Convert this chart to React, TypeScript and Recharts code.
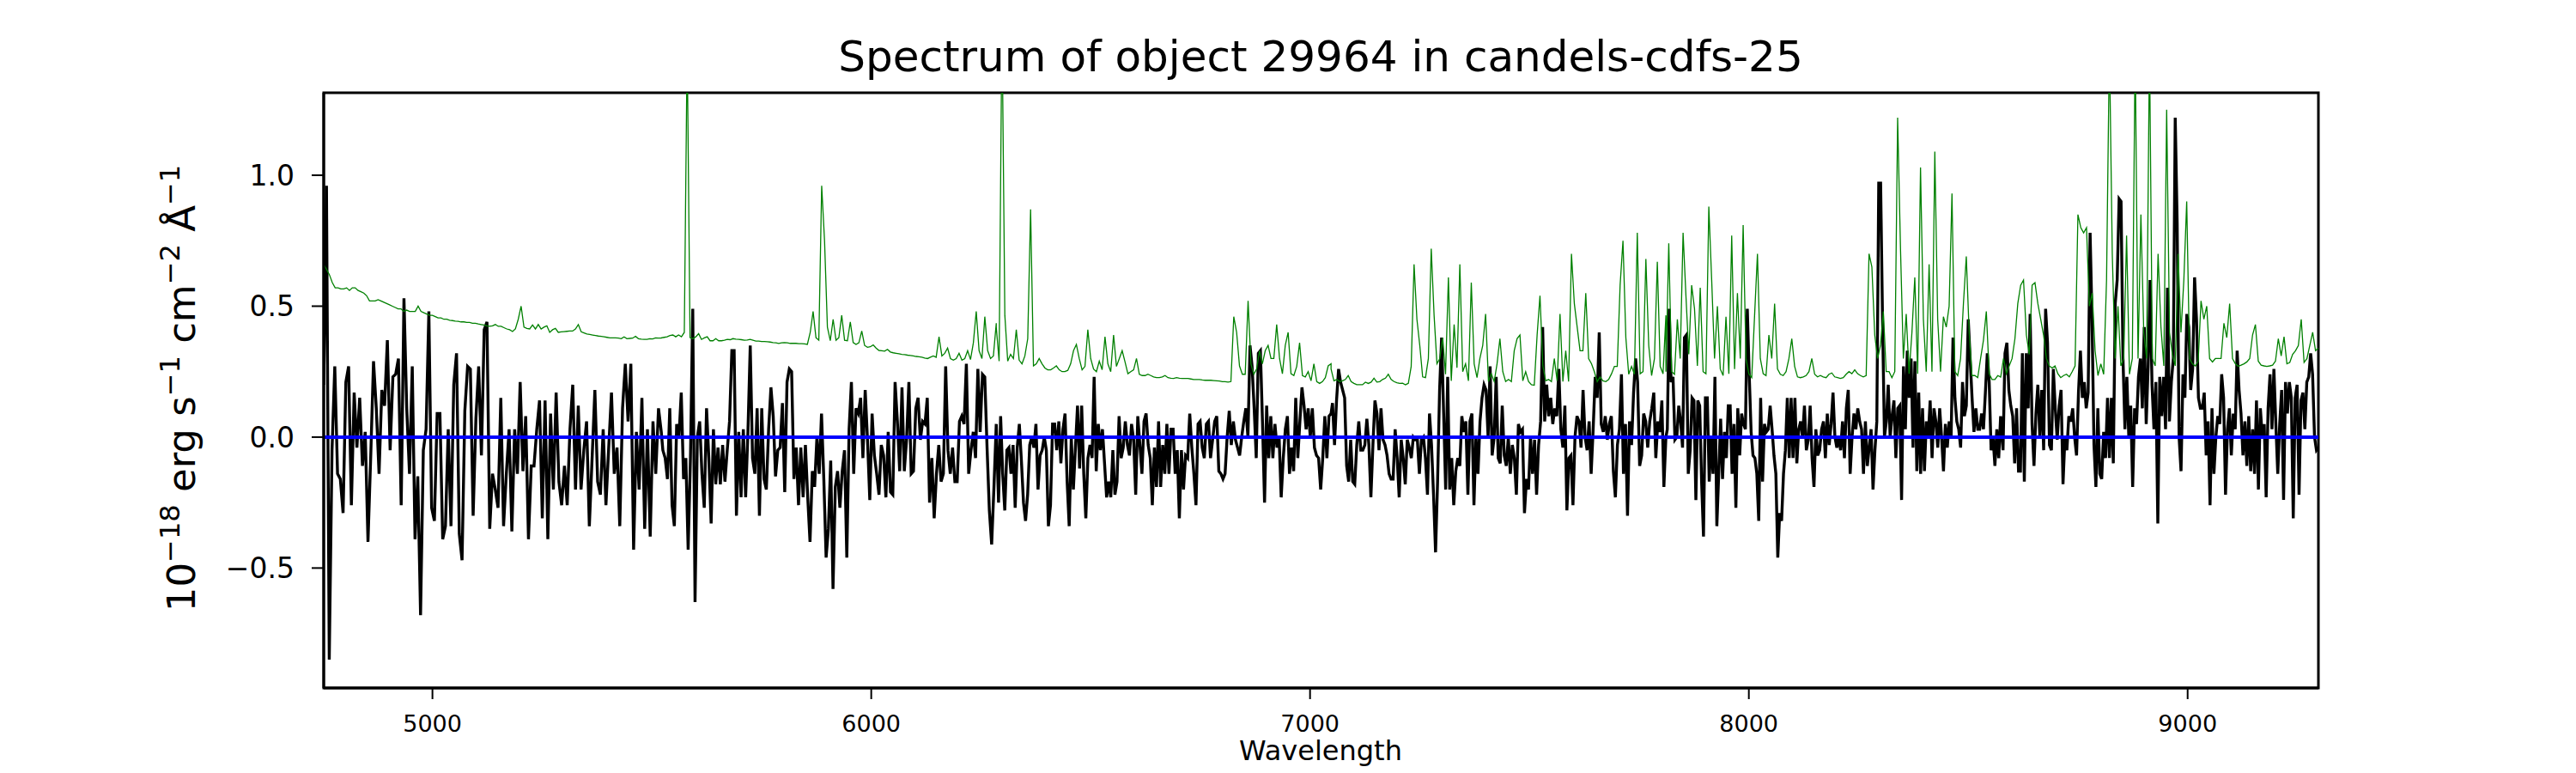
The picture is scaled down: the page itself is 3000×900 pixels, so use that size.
import { LineChart, Line, XAxis, YAxis, ReferenceLine, ReferenceArea } from 'recharts';

// axis limits (Angstrom / 1e-18 erg s-1 cm-2 A-1)
const WAVE_MIN = 4752.2;
const WAVE_MAX = 9298;
const FLUX_MIN = -0.958;
const FLUX_MAX = 1.315;

const X_TICKS = [5000, 6000, 7000, 8000, 9000];
const Y_TICKS = [-0.5, 0, 0.5, 1];

// object spectrum in six stretches (start, end wavelength)
const FLUX_RANGES = [
  [4752.2, 5521.5],
  [5525.1, 6284.9],
  [6290.1, 7047.9],
  [7051.2, 7811.0],
  [7814.2, 8573.8],
  [8579.3, 9298.0],
];

const FLUX_A = [
  0.20, 0.96, -0.85, -0.05, 0.27, -0.14, -0.16, -0.29, 0.21, 0.27, -0.26, 0.17, -0.04, 0.15, -0.11, 0.02,
  -0.40, -0.07, 0.29, 0.11, -0.14, 0.18, 0.12, 0.37, -0.05, 0.23, 0.24, 0.30, -0.26, 0.53, 0.11, -0.14,
  0.27, -0.39, -0.15, -0.68, -0.05, 0.03, 0.48, -0.27, -0.32, 0.09, 0.09, -0.39, -0.34, 0.03, -0.34, 0.20,
  0.32, -0.37, -0.47, 0.10, 0.27, 0.26, -0.30, 0.07, 0.27, -0.07, 0.41, 0.44, -0.35, -0.14, -0.20, -0.27,
  0.15, -0.34, -0.14, 0.03, -0.36, 0.03, -0.14, 0.21, -0.13, 0.08, -0.39, -0.11, -0.11, 0.03, 0.14, -0.31,
  0.14, -0.39, 0.09, -0.20, 0.17, -0.17, -0.26, -0.11, -0.26, 0.03, 0.20, -0.20, 0.12, -0.20, -0.05, 0.06,
  -0.34, -0.08, 0.18, -0.17, -0.22, 0.03, -0.26, -0.04, 0.17, -0.14, -0.04, -0.34, 0.11, 0.28, 0.06, 0.28,
  -0.43, 0.02, -0.20, 0.15, -0.35, 0.03, -0.38, 0.06, -0.14, 0.11, 0.02,
];

const FLUX_B = [
  -0.05, -0.08, -0.16, 0.11, -0.26, -0.34, 0.05, 0.00, 0.17, -0.16, -0.08, -0.43, -0.08, 0.49, -0.63, 0.00,
  0.06, -0.14, -0.27, 0.11, -0.08, -0.33, 0.03, -0.18, -0.04, -0.18, -0.03, -0.17, -0.05, 0.06, 0.33, 0.33,
  -0.30, 0.02, -0.23, 0.03, -0.23, 0.02, 0.35, -0.08, -0.14, 0.11, -0.30, 0.11, -0.16, -0.20, 0.03, 0.19,
  0.08, -0.15, -0.05, -0.04, 0.13, -0.21, 0.21, 0.26, 0.25, -0.16, -0.04, -0.26, -0.04, -0.23, -0.03, -0.23,
  -0.40, -0.13, -0.19, 0.00, -0.14, 0.09, -0.16, -0.46, -0.35, -0.09, -0.58, -0.19, -0.13, -0.27, -0.13, -0.05,
  -0.46, 0.03, 0.21, -0.14, 0.11, 0.09, 0.15, -0.08, 0.18, -0.01, -0.24, 0.09, -0.07, -0.14, -0.22, -0.03,
  -0.07, -0.23, 0.02, -0.21, -0.22, 0.21, 0.06, -0.13, 0.19, -0.13, -0.01, 0.21, -0.14, -0.13, 0.11, 0.15,
  -0.01, 0.06, 0.05, 0.15, -0.25, -0.08, -0.31, -0.14, -0.03, -0.17, -0.14, 0.27, -0.05, -0.14, -0.04, -0.17,
  -0.17, 0.06, 0.08, 0.05, 0.28, -0.14, -0.05, 0.02, -0.08, 0.26, 0.02, 0.24, 0.23, -0.04, -0.28, -0.41,
  -0.19, 0.05,
];

const FLUX_C = [
  -0.25, 0.08, -0.14, -0.28, -0.05, -0.04, -0.14, -0.03, -0.27, -0.04, 0.05, -0.09, -0.25, -0.32, -0.22, -0.03,
  0.00, -0.04, 0.05, -0.20, -0.07, -0.05, 0.00, -0.05, -0.34, -0.26, 0.05, 0.05, -0.05, 0.06, -0.10, 0.03,
  0.09, -0.17, -0.34, 0.00, -0.20, -0.04, 0.12, -0.12, 0.12, -0.14, -0.31, -0.08, -0.03, -0.08, 0.23, -0.13,
  0.05, -0.05, 0.03, -0.10, -0.23, -0.17, -0.23, -0.05, -0.22, -0.17, 0.08, -0.08, -0.04, 0.06, -0.03, -0.07,
  0.05, -0.01, -0.22, 0.08, -0.03, -0.14, 0.06, 0.09, -0.03, -0.08, -0.26, -0.04, -0.19, 0.06, -0.19, -0.03,
  -0.14, 0.05, -0.14, 0.03, 0.03, -0.14, -0.05, -0.31, -0.05, -0.20, -0.07, -0.08, 0.09, -0.04, -0.14, -0.26,
  0.05, 0.06, -0.04, -0.08, 0.05, 0.06, -0.08, -0.01, 0.06, 0.08, -0.13, -0.14, -0.16, -0.14, 0.00, 0.10,
  -0.03, 0.06, -0.01, -0.04, -0.07, 0.00, 0.06, 0.11, 0.00, 0.35, 0.27, 0.11, -0.08, 0.32, 0.33, 0.06,
  -0.25, 0.12, -0.08, 0.08, -0.08, 0.05, -0.04, 0.00, -0.23, -0.08, 0.03, 0.08, -0.14, -0.04, -0.13, 0.15,
  -0.08, 0.06, 0.19, 0.12, 0.03, 0.11, 0.00, 0.11, -0.04, -0.07, -0.08, -0.20, -0.08, 0.08, -0.08, 0.08,
  0.09,
];

const FLUX_D = [
  0.13, -0.03, 0.14, 0.26, 0.21, 0.18, 0.15, -0.11, -0.17, -0.01, -0.17, -0.18, -0.03, 0.06, -0.05, -0.05,
  -0.03, 0.07, -0.03, -0.23, -0.03, 0.14, 0.09, -0.05, 0.11, -0.01, -0.03, -0.07, -0.14, -0.16, -0.16, 0.03,
  -0.08, -0.23, -0.01, -0.08, -0.18, -0.01, -0.04, -0.08, 0.00, -0.01, -0.01, -0.14, -0.01, 0.00, -0.08, -0.22,
  0.09, -0.03, -0.22, -0.44, -0.17, 0.18, 0.38, 0.09, -0.20, 0.23, -0.20, -0.08, -0.26, -0.13, -0.08, -0.11,
  0.08, 0.02, 0.06, -0.22, 0.06, 0.09, -0.26, 0.00, -0.14, 0.06, 0.15, 0.20, 0.18, 0.00, 0.27, -0.07,
  0.00, 0.23, -0.08, -0.10, 0.12, -0.07, -0.11, 0.00, -0.14, -0.03, -0.08, -0.22, 0.05, 0.02, 0.03, -0.29,
  -0.16, -0.20, 0.00, -0.14, -0.01, -0.22, -0.03, 0.06, 0.42, 0.06, 0.20, 0.08, 0.15, 0.05, 0.11, 0.08,
  0.26, 0.03, -0.04, 0.12, -0.28, -0.08, -0.07, -0.26, 0.00, 0.08, 0.06, -0.04, 0.18, 0.00, -0.05, 0.06,
  -0.14, 0.03, 0.23, 0.15, 0.40, 0.05, 0.02, 0.08, -0.01, 0.05, 0.08, -0.13, -0.23, -0.03, 0.03, 0.24,
  -0.14, 0.05, -0.30, 0.06, -0.03, 0.17, 0.30, 0.21, -0.11, -0.07, 0.09, 0.06, -0.04, 0.06, 0.11, 0.17,
  -0.08, 0.06, 0.02, 0.14, -0.19, 0.00,
];

const FLUX_E = [
  0.03, 0.49, 0.21, 0.23, -0.01, 0.00, 0.12, 0.06, -0.04, 0.38, 0.39, -0.14, -0.05, 0.15, 0.14, -0.24,
  0.14, 0.12, -0.17, -0.38, 0.15, 0.15, -0.17, 0.00, -0.14, 0.23, -0.34, -0.14, 0.07, -0.16, 0.02, -0.08,
  0.12, 0.12, -0.14, 0.05, -0.27, 0.11, -0.07, 0.09, 0.05, 0.03, 0.49, 0.24, 0.02, -0.07, -0.08, -0.14,
  -0.32, 0.15, -0.17, 0.05, 0.02, 0.03, 0.12, 0.03, -0.07, -0.14, -0.46, -0.29, -0.32, -0.14, -0.05, 0.15,
  -0.08, 0.15, -0.08, 0.15, -0.10, 0.03, 0.06, 0.00, 0.12, -0.05, -0.01, 0.12, -0.08, -0.19, 0.03, -0.07,
  -0.05, 0.03, 0.06, -0.08, 0.09, -0.03, 0.05, 0.17, 0.00, -0.04, 0.00, -0.05, 0.06, -0.08, 0.11, 0.18,
  -0.14, 0.00, 0.09, 0.03, 0.11, 0.06, 0.03, -0.14, 0.06, -0.11, -0.04, 0.03, -0.20, -0.05, 0.06, 0.97,
  0.97, 0.45, 0.00, 0.06, 0.20, 0.00, 0.08, 0.14, -0.08, 0.11, 0.12, -0.24, 0.27, 0.03, 0.33, 0.15,
  0.30, -0.04, 0.29, -0.13, 0.17, -0.14, 0.11, -0.13, 0.06, 0.00, 0.14, -0.08, 0.11, 0.06, -0.04, 0.11,
  0.00, -0.13, 0.05, -0.04, 0.06, 0.00, 0.38, 0.15, 0.06, 0.03, -0.04, 0.21, 0.08, 0.12, 0.45, 0.30,
  0.15, 0.02, 0.11, 0.03, 0.03, 0.09, 0.03, 0.17, 0.32, 0.21, -0.05, 0.00, -0.11, 0.03, -0.08, 0.08,
];

const FLUX_F = [
  -0.05, 0.32, 0.36, 0.18, 0.12, 0.08, -0.10, 0.11, -0.13, -0.13, 0.32, -0.17, 0.32, 0.11, 0.47, 0.05,
  -0.11, 0.09, 0.20, 0.00, 0.18, -0.05, 0.49, 0.36, -0.03, -0.05, 0.26, 0.11, -0.01, 0.12, 0.18, -0.18,
  0.00, -0.05, 0.08, 0.06, 0.11, 0.00, -0.07, 0.17, 0.33, 0.15, 0.21, 0.11, 0.17, 0.78, 0.45, -0.03,
  -0.19, 0.11, -0.14, -0.16, 0.02, -0.08, 0.15, -0.08, 0.15, -0.10, 0.51, 0.60, 0.91, 0.90, 0.30, 0.03,
  0.23, 0.00, 0.12, -0.19, 0.11, 0.05, 0.23, 0.30, 0.11, 0.42, 0.05, 0.27, 0.60, 0.20, 0.03, 0.21,
  -0.33, 0.23, 0.08, 0.23, 0.03, 0.57, 0.06, 0.21, 0.30, 1.22, 0.82, 0.00, -0.13, 0.24, 0.15, 0.47,
  0.42, 0.18, 0.26, 0.61, 0.45, 0.15, 0.11, 0.11, 0.17, -0.07, 0.06, -0.26, 0.11, -0.14, 0.00, 0.08,
  0.05, 0.24, 0.15, -0.22, 0.03, 0.11, -0.07, 0.09, 0.03, 0.33, 0.18, 0.09, -0.07, 0.06, -0.11, 0.08,
  -0.13, 0.03, -0.14, 0.14, -0.20, 0.11, 0.00, 0.05, -0.23, 0.11, 0.24, 0.03, 0.26, 0.05, -0.14, 0.05,
  0.18, -0.24, 0.21, 0.09, 0.21, 0.15, -0.31, 0.15, 0.20, -0.22, 0.14, 0.17, 0.03, 0.21, 0.23, 0.32,
  0.24, 0.00, -0.05, -0.04,
];

// sky / error spectrum (green), same six stretches
const SKY_RANGES = [
  [4752.2, 5521.5],
  [5521.8, 6284.9],
  [6284.9, 7047.9],
  [7047.9, 7811.0],
  [7811.0, 8573.8],
  [8573.8, 9298.0],
];

const SKY_A = [
  0.66, 0.64, 0.62, 0.59, 0.57, 0.57, 0.566, 0.566, 0.57, 0.56, 0.57, 0.57, 0.56, 0.555, 0.55, 0.54,
  0.52, 0.52, 0.52, 0.525, 0.52, 0.515, 0.51, 0.505, 0.50, 0.495, 0.49, 0.49, 0.48, 0.485, 0.48, 0.48,
  0.48, 0.50, 0.48, 0.475, 0.47, 0.465, 0.465, 0.46, 0.455, 0.455, 0.45, 0.45, 0.446, 0.445, 0.443, 0.442,
  0.44, 0.44, 0.438, 0.438, 0.435, 0.435, 0.432, 0.43, 0.428, 0.425, 0.423, 0.425, 0.43, 0.423, 0.423, 0.418,
  0.413, 0.41, 0.403, 0.413, 0.45, 0.50, 0.42, 0.415, 0.413, 0.428, 0.413, 0.43, 0.413, 0.42, 0.425, 0.40,
  0.41, 0.415, 0.40, 0.402, 0.403, 0.404, 0.405, 0.405, 0.413, 0.43, 0.402, 0.398, 0.394, 0.392, 0.39, 0.388,
  0.386, 0.385, 0.383, 0.381, 0.379, 0.379, 0.379, 0.378, 0.376, 0.383, 0.376, 0.377, 0.378, 0.385, 0.376, 0.374,
  0.373, 0.373, 0.376, 0.375, 0.379, 0.378, 0.378,
];

const SKY_B = [
  0.379, 0.381, 0.383, 0.388, 0.39, 0.383, 0.39, 0.383, 0.40, 1.5, 0.38, 0.376, 0.383, 0.395, 0.373, 0.379,
  0.383, 0.368, 0.368, 0.376, 0.368, 0.368, 0.37, 0.373, 0.372, 0.376, 0.374, 0.373, 0.372, 0.37, 0.371, 0.373,
  0.37, 0.367, 0.367, 0.365, 0.365, 0.364, 0.363, 0.361, 0.36, 0.358, 0.36, 0.361, 0.36, 0.358, 0.358, 0.358,
  0.357, 0.357, 0.356, 0.354, 0.40, 0.48, 0.38, 0.37, 0.96, 0.75, 0.42, 0.368, 0.45, 0.37, 0.38, 0.465,
  0.37, 0.368, 0.44, 0.361, 0.354, 0.36, 0.405, 0.35, 0.343, 0.345, 0.352, 0.34, 0.331, 0.33, 0.328, 0.335,
  0.325, 0.322, 0.32, 0.318, 0.316, 0.315, 0.313, 0.312, 0.31, 0.308, 0.307, 0.305, 0.302, 0.30, 0.305, 0.31,
  0.305, 0.383, 0.31, 0.32, 0.34, 0.30, 0.294, 0.30, 0.32, 0.294, 0.30, 0.33, 0.296, 0.36, 0.48, 0.33,
  0.30, 0.46, 0.33, 0.30, 0.31, 0.435,
];

const SKY_C = [
  0.42, 0.29, 1.6, 0.465, 0.29, 0.316, 0.30, 0.41, 0.294, 0.28, 0.31, 0.376, 0.87, 0.272, 0.28, 0.30,
  0.28, 0.264, 0.257, 0.257, 0.264, 0.272, 0.257, 0.25, 0.25, 0.255, 0.28, 0.33, 0.354, 0.30, 0.257, 0.27,
  0.41, 0.30, 0.26, 0.25, 0.29, 0.257, 0.383, 0.28, 0.25, 0.39, 0.27, 0.30, 0.33, 0.287, 0.242, 0.25,
  0.257, 0.30, 0.24, 0.235, 0.235, 0.24, 0.235, 0.23, 0.227, 0.227, 0.23, 0.235, 0.227, 0.225, 0.224, 0.227,
  0.225, 0.224, 0.224, 0.224, 0.222, 0.22, 0.22, 0.22, 0.218, 0.217, 0.217, 0.217, 0.216, 0.215, 0.214, 0.212,
  0.212, 0.21, 0.212, 0.46, 0.40, 0.272, 0.24, 0.24, 0.52, 0.28, 0.24, 0.26, 0.33, 0.28, 0.33, 0.35,
  0.30, 0.30, 0.43, 0.30, 0.242, 0.35, 0.40, 0.242, 0.235, 0.27, 0.36, 0.235, 0.23, 0.25, 0.215, 0.28,
  0.212, 0.205, 0.212, 0.227, 0.272, 0.28,
];

const SKY_D = [
  0.26, 0.215, 0.22, 0.212, 0.215, 0.22, 0.235, 0.212, 0.205, 0.20, 0.20, 0.20, 0.21, 0.205, 0.21, 0.225,
  0.21, 0.212, 0.22, 0.225, 0.24, 0.22, 0.212, 0.208, 0.205, 0.206, 0.20, 0.205, 0.27, 0.66, 0.45, 0.35,
  0.23, 0.227, 0.30, 0.72, 0.465, 0.28, 0.30, 0.38, 0.24, 0.61, 0.215, 0.43, 0.265, 0.66, 0.25, 0.28,
  0.215, 0.59, 0.28, 0.227, 0.30, 0.35, 0.47, 0.212, 0.242, 0.212, 0.28, 0.376, 0.25, 0.212, 0.22, 0.212,
  0.33, 0.376, 0.39, 0.215, 0.25, 0.212, 0.20, 0.198, 0.39, 0.54, 0.272, 0.215, 0.22, 0.212, 0.30, 0.215,
  0.47, 0.212, 0.33, 0.212, 0.70, 0.51, 0.42, 0.33, 0.33, 0.55, 0.30, 0.28, 0.25, 0.212, 0.23, 0.215,
  0.212, 0.22, 0.242, 0.27, 0.27, 0.58, 0.75, 0.38, 0.24, 0.27, 0.24, 0.78, 0.242, 0.25, 0.68, 0.35,
  0.235, 0.30, 0.67, 0.27, 0.242, 0.465,
];

const SKY_E = [
  0.25, 0.74, 0.25, 0.24, 0.45, 0.30, 0.78, 0.54, 0.316, 0.58, 0.49, 0.272, 0.57, 0.25, 0.242, 0.88,
  0.60, 0.30, 0.50, 0.26, 0.235, 0.46, 0.242, 0.77, 0.26, 0.55, 0.30, 0.81, 0.30, 0.242, 0.227, 0.465,
  0.70, 0.30, 0.242, 0.235, 0.39, 0.30, 0.51, 0.26, 0.24, 0.235, 0.25, 0.30, 0.376, 0.27, 0.23, 0.227,
  0.23, 0.235, 0.25, 0.30, 0.24, 0.23, 0.235, 0.23, 0.227, 0.24, 0.245, 0.23, 0.227, 0.224, 0.227, 0.24,
  0.25, 0.242, 0.257, 0.242, 0.235, 0.23, 0.235, 0.70, 0.65, 0.39, 0.30, 0.35, 0.48, 0.25, 0.25, 0.227,
  0.25, 1.22, 0.72, 0.30, 0.47, 0.242, 0.40, 0.61, 0.242, 1.03, 0.45, 0.25, 0.66, 0.25, 1.09, 0.45,
  0.25, 0.46, 0.42, 0.50, 0.93, 0.25, 0.235, 0.30, 0.51, 0.69, 0.40, 0.235, 0.235, 0.227, 0.30, 0.37,
  0.48, 0.242, 0.22, 0.22, 0.235, 0.23,
];

const SKY_F = [
  0.227, 0.30, 0.242, 0.272, 0.30, 0.376, 0.51, 0.58, 0.60, 0.39, 0.316, 0.58, 0.59, 0.51, 0.45, 0.39,
  0.30, 0.272, 0.264, 0.272, 0.242, 0.227, 0.235, 0.24, 0.23, 0.25, 0.272, 0.85, 0.80, 0.78, 0.80, 0.50,
  0.55, 0.33, 0.235, 0.28, 0.24, 0.60, 1.5, 0.70, 0.30, 0.50, 0.272, 0.30, 0.77, 0.24, 0.30, 1.5,
  0.30, 0.85, 0.40, 0.30, 1.5, 0.30, 0.272, 0.70, 0.42, 0.272, 1.25, 0.40, 0.316, 0.272, 0.70, 0.40,
  0.60, 0.90, 0.30, 0.28, 0.272, 0.29, 0.52, 0.45, 0.50, 0.30, 0.287, 0.30, 0.30, 0.30, 0.435, 0.38,
  0.51, 0.30, 0.28, 0.27, 0.275, 0.28, 0.287, 0.30, 0.39, 0.43, 0.29, 0.275, 0.272, 0.27, 0.272, 0.275,
  0.29, 0.376, 0.31, 0.383, 0.28, 0.285, 0.316, 0.33, 0.35, 0.45, 0.285, 0.30, 0.35, 0.40, 0.33, 0.34,
];

// each stretch is sampled evenly between its two end wavelengths
function toPoints(ranges: number[][], stretches: number[][]) {
  const points: { wave: number; value: number }[] = [];
  stretches.forEach((values, k) => {
    const [from, to] = ranges[k];
    const step = (to - from) / (values.length - 1);
    values.forEach((value, i) => points.push({ wave: from + i * step, value }));
  });
  return points;
}

const fluxData = toPoints(FLUX_RANGES, [FLUX_A, FLUX_B, FLUX_C, FLUX_D, FLUX_E, FLUX_F]);
const skyData = toPoints(SKY_RANGES, [SKY_A, SKY_B, SKY_C, SKY_D, SKY_E, SKY_F]);

const FONT = 'DejaVu Sans';

const formatY = (v: number) => (v < 0 ? '\u2212' + Math.abs(v).toFixed(1) : v.toFixed(1));

export default function App() {
  return (
    <div style={{ position: 'absolute', left: 0, top: 0, width: 3000, height: 900, background: '#fff' }}>
      <LineChart width={3000} height={900} margin={{ top: 108, right: 300, bottom: 0, left: 0 }}>
        <XAxis
          dataKey="wave"
          type="number"
          domain={[WAVE_MIN, WAVE_MAX]}
          allowDataOverflow
          ticks={X_TICKS}
          interval={0}
          height={99}
          tickSize={13}
          tickMargin={19}
          tick={{ fontSize: 27, fill: '#000', fontFamily: FONT }}
          tickLine={{ stroke: '#000', strokeWidth: 2 }}
          axisLine={{ stroke: '#000', strokeWidth: 3 }}
        />
        <YAxis
          type="number"
          domain={[FLUX_MIN, FLUX_MAX]}
          allowDataOverflow
          ticks={Y_TICKS}
          interval={0}
          width={377}
          tickSize={14}
          tickMargin={20}
          tickFormatter={formatY}
          tick={{ fontSize: 33, fill: '#000', fontFamily: FONT }}
          tickLine={{ stroke: '#000', strokeWidth: 2 }}
          axisLine={{ stroke: '#000', strokeWidth: 3 }}
        />
        <Line
          data={fluxData}
          dataKey="value"
          type="linear"
          stroke="#000000"
          strokeWidth={3.4}
          dot={false}
          activeDot={false}
          isAnimationActive={false}
        />
        <Line
          data={skyData}
          dataKey="value"
          type="linear"
          stroke="#008000"
          strokeWidth={1.3}
          dot={false}
          activeDot={false}
          isAnimationActive={false}
        />
        <ReferenceLine y={0} stroke="#0000ff" strokeWidth={4} />
        <ReferenceArea
          x1={WAVE_MIN}
          x2={WAVE_MAX}
          y1={FLUX_MIN}
          y2={FLUX_MAX}
          fill="none"
          stroke="#000"
          strokeWidth={3}
        />
      </LineChart>
      <svg
        width={3000}
        height={900}
        style={{ position: 'absolute', left: 0, top: 0, pointerEvents: 'none' }}
        fontFamily={FONT}
      >
        <text x={1538} y={83} textAnchor="middle" fontSize={50} fill="#000">
          Spectrum of object 29964 in candels-cdfs-25
        </text>
        <text x={1538} y={885} textAnchor="middle" fontSize={32} fill="#000">
          Wavelength
        </text>
        <text transform="translate(227 452) rotate(-90)" textAnchor="middle" fontSize={45} fill="#000">
          10
          <tspan fontSize={32} dy={-18}>{'\u221218'}</tspan>
          <tspan dy={18}>{' erg s'}</tspan>
          <tspan fontSize={32} dy={-18}>{'\u22121'}</tspan>
          <tspan dy={18}>{' cm'}</tspan>
          <tspan fontSize={32} dy={-18}>{'\u22122'}</tspan>
          <tspan dy={18}>{' \u00c5'}</tspan>
          <tspan fontSize={32} dy={-18}>{'\u22121'}</tspan>
        </text>
      </svg>
    </div>
  );
}
